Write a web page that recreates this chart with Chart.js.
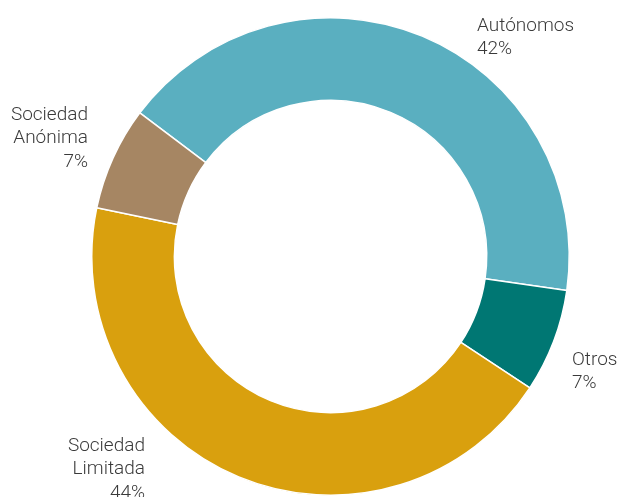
<!DOCTYPE html>
<html>
<head>
<meta charset="utf-8">
<script src="https://cdn.jsdelivr.net/npm/chart.js@4/dist/chart.umd.min.js"></script>
<style>
  html, body { margin: 0; padding: 0; background: #fff; }
  #wrap { width: 622px; height: 497px; position: relative; }
</style>
</head>
<body>
<div id="wrap"><canvas id="donut"></canvas></div>
<script>
// ===== Data =====
const categories = ['Autónomos', 'Otros', 'Sociedad Limitada', 'Sociedad Anónima'];
const shares = [42, 7, 44, 7];
const colors = ['#5aafc0', '#007773', '#d9a00e', '#a68663'];

// label lines shown next to each slice
const labelLines = [
    ['Autónomos', '42%'],
    ['Otros', '7%'],
    ['Sociedad', 'Limitada', '44%'],
    ['Sociedad', 'Anónima', '7%']
];

// where each label sits (first baseline) and how it is aligned
const labelPlaces = [
    { x: 477, y: 31, align: 'left' },
    { x: 572, y: 365, align: 'left' },
    { x: 145, y: 451, align: 'right' },
    { x: 88, y: 120, align: 'right' }
];

const outsideLabels = {
    id: 'outsideLabels',
    afterDraw(chart) {
        const ctx = chart.ctx;
        ctx.save();
        ctx.font = '300 19px Roboto, "Liberation Sans", sans-serif';
        ctx.fillStyle = '#3a3a3a';
        ctx.textBaseline = 'alphabetic';
        labelLines.forEach((lines, i) => {
            const p = labelPlaces[i];
            ctx.textAlign = p.align;
            lines.forEach((t, j) => ctx.fillText(t, p.x, p.y + j * 23.3));
        });
        ctx.restore();
    }
};

const chart = new Chart(document.getElementById('donut').getContext('2d'), {
    type: 'doughnut',
    data: {
        labels: categories,
        datasets: [{
            data: shares,
            backgroundColor: colors,
            borderColor: '#ffffff',
            borderWidth: 1.5
        }]
    },
    options: {
        responsive: true,
        maintainAspectRatio: false,
        animation: false,
        rotation: -53,
        cutout: '65.4%',
        layout: { padding: { left: 91, right: 52, top: 17, bottom: 1 } },
        plugins: {
            legend: { display: false },
            tooltip: { enabled: false }
        }
    },
    plugins: [outsideLabels]
});
</script>
</body>
</html>
